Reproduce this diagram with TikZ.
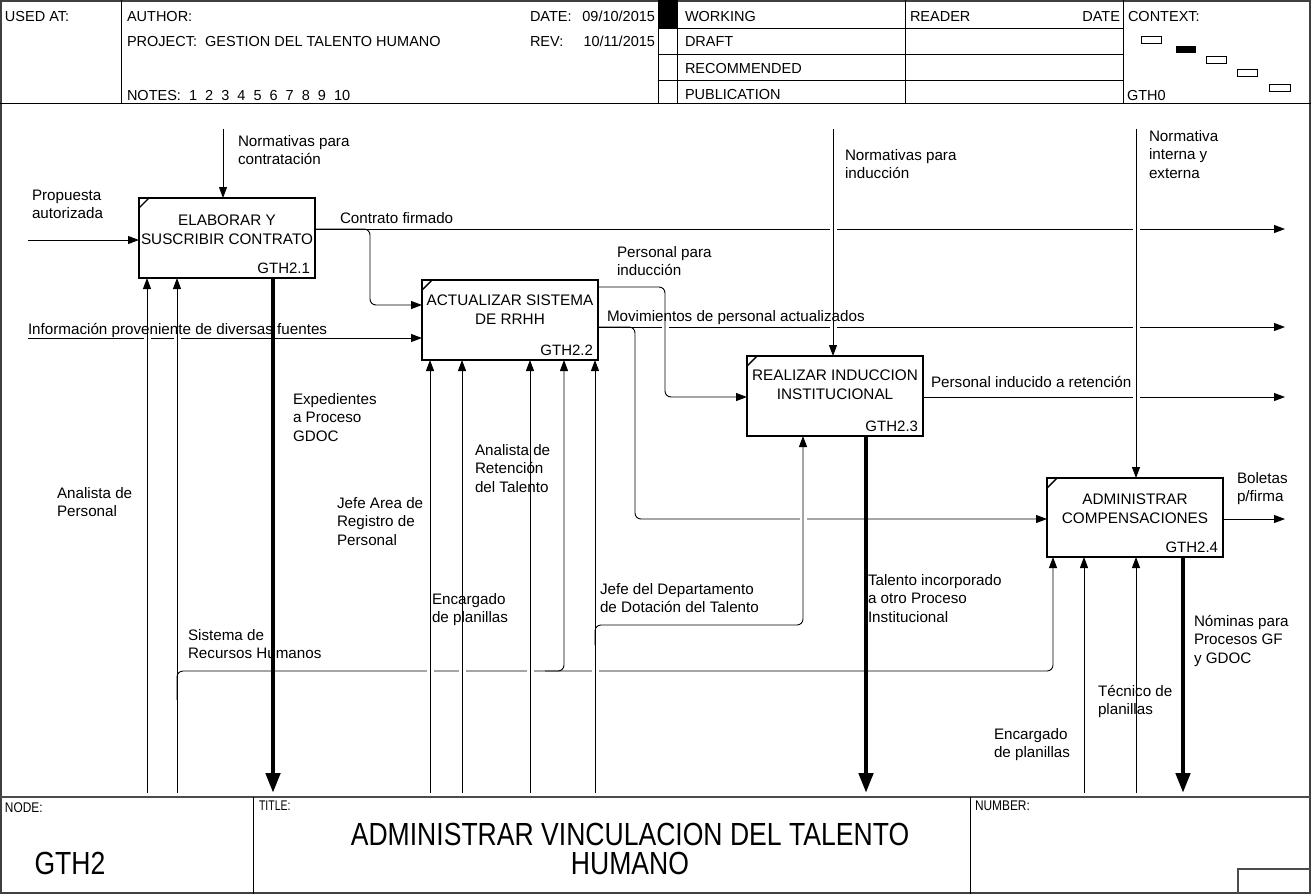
\documentclass[tikz,border=0pt]{standalone}
\usepackage{fontspec}
\setmainfont{Liberation Sans}
\usetikzlibrary{arrows.meta,calc}
\begin{document}
\begin{tikzpicture}[x=1pt,y=-1pt,
  every node/.style={inner sep=0pt,outer sep=0pt},
  lbl/.style={font=\fontsize{15.2}{18.5}\selectfont,align=left,anchor=base west},
  hdr/.style={font=\fontsize{14.5}{16}\selectfont,anchor=base west},
  hdre/.style={font=\fontsize{14.5}{16}\selectfont,anchor=base east},
  smalltxt/.style={font=\fontsize{14}{16}\selectfont,anchor=base west},
  bigtxt/.style={font=\fontsize{32}{36}\selectfont,anchor=base},
  frm/.style={line width=1pt},
  proc/.style={draw,line width=2.2pt,fill=white,anchor=north west,minimum width=176pt,minimum height=80pt},
  ptext/.style={font=\fontsize{15.3}{18.5}\selectfont,align=center,anchor=base},
  pid/.style={font=\fontsize{15}{18.5}\selectfont,anchor=base east},
  ln/.style={line width=0.9pt},
  arr/.style={ln,-{Triangle[length=11pt,width=8pt]}},
  outarr/.style={line width=4.5pt,-{Triangle[length=20pt,width=14pt]}},
  rc/.style={rounded corners=6pt},
  cornermark/.style={line width=1.4pt}
]
\useasboundingbox (0,0) rectangle (1311,894);
% ---------- frame, header ----------
\draw[line width=1.2pt,black!75] (1,1) rectangle (1310,893);
\draw[frm] (0,103) -- (1311,103);
\foreach \x in {121,658,677,905,1123} \draw[frm] (\x,0) -- (\x,103);
\foreach \y in {28,54,80} \draw[frm] (658,\y) -- (1123,\y);
\fill (658,0) rectangle (677,28);
\node[hdr] (usedat) at (5,21) {USED AT:};
\node[hdr] (author) at (127,21) {AUTHOR:};
\node[hdr] (datel) at (530,21) {DATE:};
\node[hdre] (datev) at (655,21) {09/10/2015};
\node[hdr] (proj) at (127,46) {PROJECT:\ \ GESTION DEL TALENTO HUMANO};
\node[hdr] (revl) at (530,46) {REV:};
\node[hdre] (revv) at (655,46) {10/11/2015};
\node[hdr] (notes) at (127,100) {NOTES:\ \ 1\ \ 2\ \ 3\ \ 4\ \ 5\ \ 6\ \ 7\ \ 8\ \ 9\ \ 10};
\node[hdr] (working) at (685,21) {WORKING};
\node[hdr] (draft) at (685,46) {DRAFT};
\node[hdr] (recom) at (685,73) {RECOMMENDED};
\node[hdr] (publ) at (685,99) {PUBLICATION};
\node[hdr] (reader) at (910,21) {READER};
\node[hdre] (rdate) at (1120,21) {DATE};
\node[hdr] (context) at (1128,21) {CONTEXT:};
\node[hdr] (gth0) at (1127,100) {GTH0};
\draw[frm] (1141,36) rectangle (1161,43);
\fill (1176,46) rectangle (1196,53);
\draw[frm] (1206,56) rectangle (1226,63);
\draw[frm] (1237,69) rectangle (1257,76);
\draw[frm] (1269,84) rectangle (1290,91);
% ---------- footer ----------
\draw[line width=1.5pt,black!70] (0,797) -- (1311,797);
\draw[frm] (253,797) -- (253,894);
\draw[frm] (970,797) -- (970,894);
\draw[line width=1.3pt,black!70] (1238,894) -- (1238,869) -- (1311,869);
\node[smalltxt] (nodel) at (5,812) {\scalebox{0.85}[1]{NODE:}};
\node[smalltxt] (titlel) at (259,810) {\scalebox{0.75}[1]{TITLE:}};
\node[smalltxt] (numl) at (975,810) {\scalebox{0.85}[1]{NUMBER:}};
\node[bigtxt] (gth2) at (70,874) {\scalebox{0.83}[1]{GTH2}};
\node[bigtxt] (title1) at (630,845) {\scalebox{0.83}[1]{ADMINISTRAR VINCULACION DEL TALENTO}};
\node[bigtxt] (title2) at (630,874) {\scalebox{0.83}[1]{HUMANO}};
% ---------- boxes (positions) ----------
\node[proc] (b1) at (139,198) {};
\node[proc] (b2) at (422,280) {};
\node[proc] (b3) at (747,356) {};
\node[proc,minimum height=79pt] (b4) at (1047,478) {};
% ---------- coordinates ----------
\coordinate (inA) at (28,240);
\coordinate (inB) at (28,338);
\coordinate (ctlA) at (223,129);
\coordinate (ctlC) at (833,129);
\coordinate (ctlD) at (1136,129);
\coordinate (outA) at (1285,229);
\coordinate (outB) at (1285,327);
\coordinate (outC) at (1285,397);
\coordinate (outD) at (1285,519);
\coordinate (m1) at (147,793);
\coordinate (m2) at (177,793);
\coordinate (m3) at (430,793);
\coordinate (m4) at (462,793);
\coordinate (m5) at (530,793);
\coordinate (m6) at (595,793);
\coordinate (m7) at (1084,793);
\coordinate (m8) at (1136,793);
\coordinate (x1) at (273,793);
\coordinate (x3) at (866,793);
\coordinate (x4) at (1183,793);
\coordinate (j1) at (370,229);
\coordinate (j2) at (370,305);
\coordinate (k1) at (665,287);
\coordinate (k2) at (665,397);
\coordinate (n1) at (635,327);
\coordinate (n2) at (635,519);
\coordinate (s0) at (177,700);
\coordinate (s1) at (177,671);
\coordinate (s2) at (1053,671);
\coordinate (e0) at (545,671);
\coordinate (e1) at (564,671);
\coordinate (d0) at (595,645);
\coordinate (d1) at (595,625);
\coordinate (d2) at (803,625);
% ---------- horizontal connectors ----------
\draw[arr] (inA) -- (inA -| b1.west);
\draw[arr] (inB) -- (inB -| b2.west);
\draw[arr] (outA -| b1.east) -- (outA);
\draw[arr] (outB -| b2.east) -- (outB);
\draw[arr] (outC -| b3.east) -- (outC);
\draw[arr] (outD -| b4.east) -- (outD);
\draw[arr,rc] (outB -| b2.east) -- (n1) -- (n2) -- (n2 -| b4.west);
\draw[arr,rc] (s0) -- (s1) -- (s2) -- (s2 |- b4.south);
% ---------- gaps at crossings ----------
\foreach \x/\y in {833/229,1136/229,665/327,833/327,1136/327,1136/397,803/519,147/338,177/338,430/671,462/671,530/671,595/671}
  \fill[white] (\x-3.5,\y-2) rectangle (\x+3.5,\y+2);
% ---------- vertical connectors ----------
\draw[arr] (ctlA) -- (ctlA |- b1.north);
\draw[arr] (ctlC) -- (ctlC |- b3.north);
\draw[arr] (ctlD) -- (ctlD |- b4.north);
\draw[arr,rc] (outA -| b1.east) -- (j1) -- (j2) -- (j2 -| b2.west);
\draw[arr,rc] (k1 -| b2.east) -- (k1) -- (k2) -- (k2 -| b3.west);
\draw[arr] (m1) -- (m1 |- b1.south);
\draw[arr] (m2) -- (m2 |- b1.south);
\draw[arr] (m3) -- (m3 |- b2.south);
\draw[arr] (m4) -- (m4 |- b2.south);
\draw[arr] (m5) -- (m5 |- b2.south);
\draw[arr] (m6) -- (m6 |- b2.south);
\draw[arr,rc] (e0) -- (e1) -- (e1 |- b2.south);
\draw[arr,rc] (d0) -- (d1) -- (d2) -- (d2 |- b3.south);
\draw[arr] (m7) -- (m7 |- b4.south);
\draw[arr] (m8) -- (m8 |- b4.south);
\draw[outarr] (x1 |- b1.south) -- (x1);
\draw[outarr] (x3 |- b3.south) -- (x3);
\draw[outarr] (x4 |- b4.south) -- (x4);
% ---------- boxes (drawn) ----------
\foreach \b in {b1,b2,b3,b4} {
  \draw[line width=2.2pt] (\b.north west) rectangle (\b.south east);
  \draw[cornermark] ($(\b.north west)+(0,10)$) -- ($(\b.north west)+(10,0)$);
}
\node[ptext] (t1) at ($(b1.north)+(0,46)$) {ELABORAR Y\\SUSCRIBIR CONTRATO};
\node[ptext] (t2) at ($(b2.north)+(0,44)$) {ACTUALIZAR SISTEMA\\DE RRHH};
\node[ptext] (t3) at ($(b3.north)+(0,43)$) {REALIZAR INDUCCION\\INSTITUCIONAL};
\node[ptext] (t4) at ($(b4.north)+(0,45)$) {ADMINISTRAR\\COMPENSACIONES};
\node[pid] (i1) at ($(b1.south east)+(-5,-5)$) {GTH2.1};
\node[pid] (i2) at ($(b2.south east)+(-5,-5)$) {GTH2.2};
\node[pid] (i3) at ($(b3.south east)+(-5,-5)$) {GTH2.3};
\node[pid] (i4) at ($(b4.south east)+(-5,-5)$) {GTH2.4};
% ---------- labels (anchor = baseline of last line) ----------
\node[lbl] (l1) at (238,164.5) {Normativas para\\contratación};
\node[lbl] (l2) at (32,218.5) {Propuesta\\autorizada};
\node[lbl] (l3) at (340,223) {Contrato firmado};
\node[lbl] (l4) at (28,334) {Información proveniente de diversas fuentes};
\node[lbl] (l5) at (617,275.5) {Personal para\\inducción};
\node[lbl] (l6) at (607,321) {Movimientos de personal actualizados};
\node[lbl] (l7) at (845,178.5) {Normativas para\\inducción};
\node[lbl] (l8) at (931,387) {Personal inducido a retención};
\node[lbl] (l9) at (1149,178) {Normativa\\interna y\\externa};
\node[lbl] (l10) at (1237,501.5) {Boletas\\p/firma};
\node[lbl] (l11) at (293,441) {Expedientes\\a Proceso\\GDOC};
\node[lbl] (l12) at (57,516.5) {Analista de\\Personal};
\node[lbl] (l13) at (337,545) {Jefe Area de\\Registro de\\Personal};
\node[lbl] (l14) at (188,658.5) {Sistema de\\Recursos Humanos};
\node[lbl] (l15) at (475,492) {Analista de\\Retención\\del Talento};
\node[lbl] (l16) at (432,622.5) {Encargado\\de planillas};
\node[lbl] (l17) at (600,612.5) {Jefe del Departamento\\de Dotación del Talento};
\node[lbl] (l18) at (868,622) {Talento incorporado\\a otro Proceso\\Institucional};
\node[lbl] (l19) at (1194,663) {Nóminas para\\Procesos GF\\y GDOC};
\node[lbl] (l20) at (1098,714.5) {Técnico de\\planillas};
\node[lbl] (l21) at (994,757.5) {Encargado\\de planillas};
\end{tikzpicture}
\end{document}
